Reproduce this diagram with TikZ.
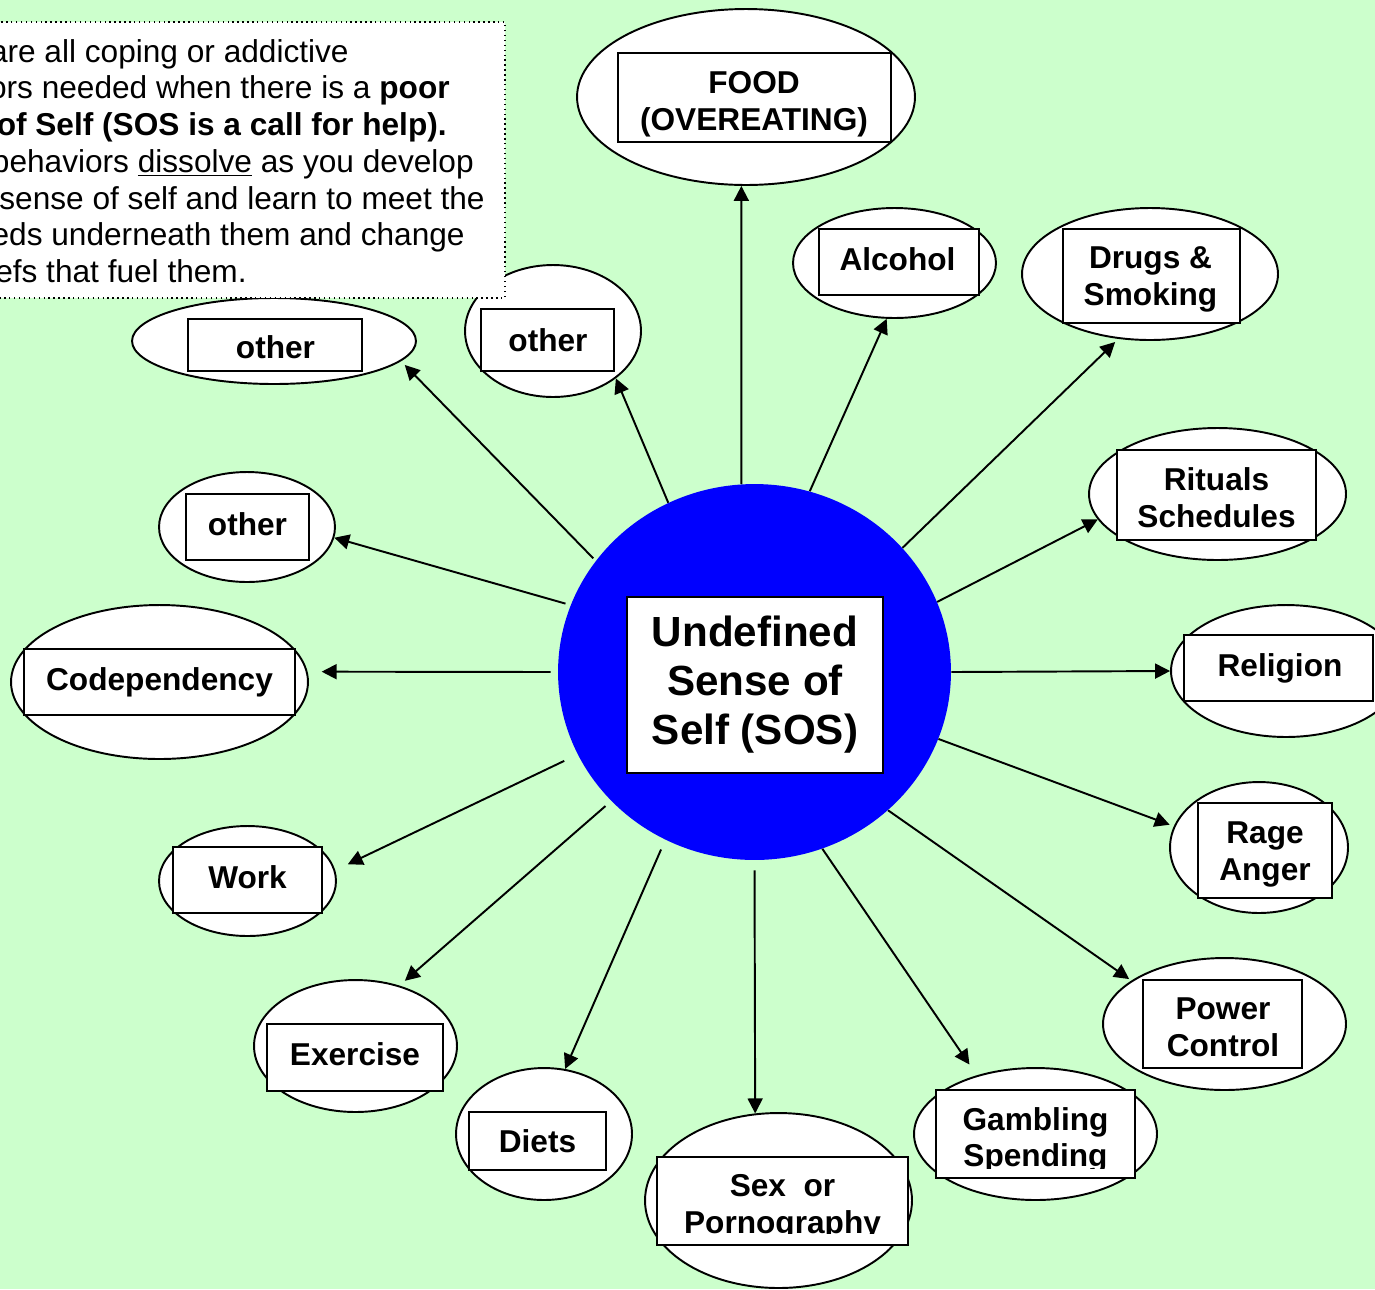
\documentclass[tikz,border=0pt]{standalone}
\usepackage{fontspec}
\setmainfont{Liberation Sans}
\usetikzlibrary{arrows.meta,shapes.geometric}
\definecolor{bg}{RGB}{204,255,204}
\definecolor{sosblue}{RGB}{0,0,255}
\begin{document}
\begin{tikzpicture}[x=0.02cm,y=-0.02cm,
  ell/.style={ellipse,draw=black,fill=white,line width=1.1pt,inner sep=0pt},
  rbox/.style={rectangle,draw=black,fill=white,line width=1.1pt,inner sep=0pt},
  lbl/.style={font=\fontsize{18}{21}\selectfont\bfseries,align=center,inner sep=0pt},
  notetxt/.style={font=\fontsize{18}{21}\selectfont,inner sep=0pt,anchor=base east},
  arr/.style={line width=1.1pt,-{Triangle[length=8.5pt,width=8.5pt]}},
]
\clip (0,0) rectangle (1375,1289);
\fill[bg] (0,0) rectangle (1375,1289);

% centre
\node[ellipse,fill=sosblue,draw=none,inner sep=0pt,minimum width=7.86cm,minimum height=7.52cm] (sos) at (754.5,672) {};
\node[rbox,minimum width=5.12cm,minimum height=3.52cm] (sosbox) at (755,685) {};
\node[lbl,font=\fontsize{24}{27.8}\selectfont\bfseries] (sostxt) at (755,684.5) {Undefined\\Sense of\\Self (SOS)};

% ellipses
\node[ell,minimum width=6.76cm,minimum height=3.52cm] (food) at (746,97) {};
\node[ell,minimum width=4.06cm,minimum height=2.2cm] (alc) at (894.5,263) {};
\node[ell,minimum width=5.12cm,minimum height=2.64cm] (drugs) at (1150,274) {};
\node[ell,minimum width=5.14cm,minimum height=2.64cm] (rit) at (1217.5,494) {};
\node[ell,minimum width=4.6cm,minimum height=2.64cm] (rel) at (1286,671) {};
\node[ell,minimum width=3.56cm,minimum height=2.62cm] (rage) at (1259,847.5) {};
\node[ell,minimum width=4.86cm,minimum height=2.64cm] (pow) at (1224.5,1024) {};
\node[ell,minimum width=4.86cm,minimum height=2.64cm] (gam) at (1035.5,1134) {};
\node[ell,minimum width=5.34cm,minimum height=3.5cm] (sex) at (778.5,1200.5) {};
\node[ell,minimum width=3.52cm,minimum height=2.64cm] (diets) at (544,1134) {};
\node[ell,minimum width=4.06cm,minimum height=2.64cm] (exer) at (355.5,1046) {};
\node[ell,minimum width=3.54cm,minimum height=2.2cm] (work) at (247.5,881) {};
\node[ell,minimum width=5.94cm,minimum height=3.08cm] (cod) at (159.5,682) {};
\node[ell,minimum width=3.52cm,minimum height=2.2cm] (oth1) at (247,527) {};
\node[ell,minimum width=5.68cm,minimum height=1.72cm] (oth2) at (274,341) {};
\node[ell,minimum width=3.52cm,minimum height=2.64cm] (oth3) at (553,331) {};

% boxes
\node[rbox,minimum width=5.46cm,minimum height=1.78cm] (foodbox) at (754.5,97.5) {};
\node[rbox,minimum width=3.2cm,minimum height=1.32cm] (alcbox) at (899,262) {};
\node[rbox,minimum width=3.54cm,minimum height=1.88cm] (drugsbox) at (1151.5,276) {};
\node[rbox,minimum width=3.98cm,minimum height=1.8cm] (ritbox) at (1216.5,495) {};
\node[rbox,minimum width=3.78cm,minimum height=1.32cm] (relbox) at (1278.5,668) {};
\node[rbox,minimum width=2.68cm,minimum height=1.9cm] (ragebox) at (1265,850.5) {};
\node[rbox,minimum width=3.18cm,minimum height=1.76cm] (powbox) at (1222.5,1024) {};
\node[rbox,minimum width=3.98cm,minimum height=1.76cm] (gambox) at (1035.5,1134) {};
\node[rbox,minimum width=5.02cm,minimum height=1.76cm] (sexbox) at (782.5,1201) {};
\node[rbox,minimum width=2.74cm,minimum height=1.16cm] (dietsbox) at (537.5,1141) {};
\node[rbox,minimum width=3.52cm,minimum height=1.34cm] (exerbox) at (355,1057.5) {};
\node[rbox,minimum width=2.98cm,minimum height=1.32cm] (workbox) at (247.5,880) {};
\node[rbox,minimum width=5.42cm,minimum height=1.32cm] (codbox) at (159.5,682) {};
\node[rbox,minimum width=2.46cm,minimum height=1.32cm] (oth1box) at (247.5,527) {};
\node[rbox,minimum width=3.48cm,minimum height=1.04cm] (oth2box) at (275,345) {};
\node[rbox,minimum width=2.66cm,minimum height=1.24cm] (oth3box) at (547.5,340) {};

% labels
\node[lbl] (foodtxt) at (754,103.9) {FOOD\\(OVEREATING)};
\node[lbl] (alctxt) at (897.5,259) {Alcohol};
\node[lbl] (drugstxt) at (1150.5,279.8) {Drugs \&\\Smoking};
\node[lbl] (rittxt) at (1216.5,497.5) {Rituals\\Schedules};
\node[lbl] (reltxt) at (1280,668.3) {Religion};
\node[lbl] (ragetxt) at (1265,854.4) {Rage\\Anger};
\node[lbl] (powtxt) at (1223,1027.5) {Power\\Control};
\begin{scope}
\clip (936,1090) rectangle (1135,1168);
\node[lbl] (gamtxt) at (1035.5,1140.4) {Gambling\\Spending};
\end{scope}
\begin{scope}
\clip (657,1157) rectangle (908,1233);
\node[lbl] (sextxt) at (782.5,1207.4) {Sex\ \ or\\Pornography};
\end{scope}
\node[lbl] (dietstxt) at (537.5,1141) {Diets};
\node[lbl] (exertxt) at (355,1054) {Exercise};
\node[lbl] (worktxt) at (247.5,877) {Work};
\node[lbl] (codtxt) at (159.5,682.4) {Codependency};
\node[lbl] (oth1txt) at (247.5,524) {other};
\node[lbl] (oth2txt) at (275.5,347) {other};
\node[lbl] (oth3txt) at (548,340) {other};

% note box
\node[draw=black,dotted,fill=white,line width=0.8pt,inner sep=0pt,minimum width=11.1cm,minimum height=5.52cm] (note) at (227.5,160) {};
\node[notetxt] (n1) at (349,62.2) {are all coping or addictive};
\node[notetxt] (n2) at (450,98.9) {ors needed when there is a \textbf{poor}};
\node[notetxt] (n3) at (447,135.6) {\textbf{of Self (SOS is a call for help).}};
\node[notetxt] (n4) at (474,172.3) {behaviors \underline{dissolve} as you develop};
\node[notetxt] (n5) at (485,209) {sense of self and learn to meet the};
\node[notetxt] (n6) at (465,245.7) {eds underneath them and change};
\node[notetxt] (n7) at (247,282.4) {efs that fuel them.};

% arrows
\draw[arr] (sos.94.4) -- (food.-93.8);
\draw[arr] (sos.73.4) -- (alc.-98.5);
\draw[arr,shorten >=2.5pt] (sos.40.3) -- (drugs.-116.6);
\draw[arr] (sos.21.5) -- (rit.-168.4);
\draw[arr] (sos.0) -- (rel.180);
\draw[arr,shorten >=2.5pt] (sos.-20.9) -- (rage.166.4);
\draw[arr,shorten >=1.5pt] (sos.-46.8) -- (pow.155);
\draw[arr,shorten >=7.4pt] (sos.-69.2) -- (gam.135.6);
\draw[arr,shorten <=5.7pt] (sos.-90.4) -- (sex.105.9);
\draw[arr,shorten <=6pt] (sos.-118.7) -- (diets.72.1);
\draw[arr,shorten <=4.3pt,shorten >=4.1pt] (sos.-138.7) -- (exer.54.8);
\draw[arr,shorten <=8.4pt,shorten >=7.9pt] (sos.-155.2) -- (work.7.4);
\draw[arr,shorten <=4pt,shorten >=8pt] (sos.180) -- (cod.4);
\draw[arr,shorten <=3pt] (sos.160.5) -- (oth1.-7.9);
\draw[arr,shorten <=2pt,shorten >=3pt] (sos.145.8) -- (oth2.-9.7);
\draw[arr] (sos.117.6) -- (oth3.-37.6);
\end{tikzpicture}
\end{document}
